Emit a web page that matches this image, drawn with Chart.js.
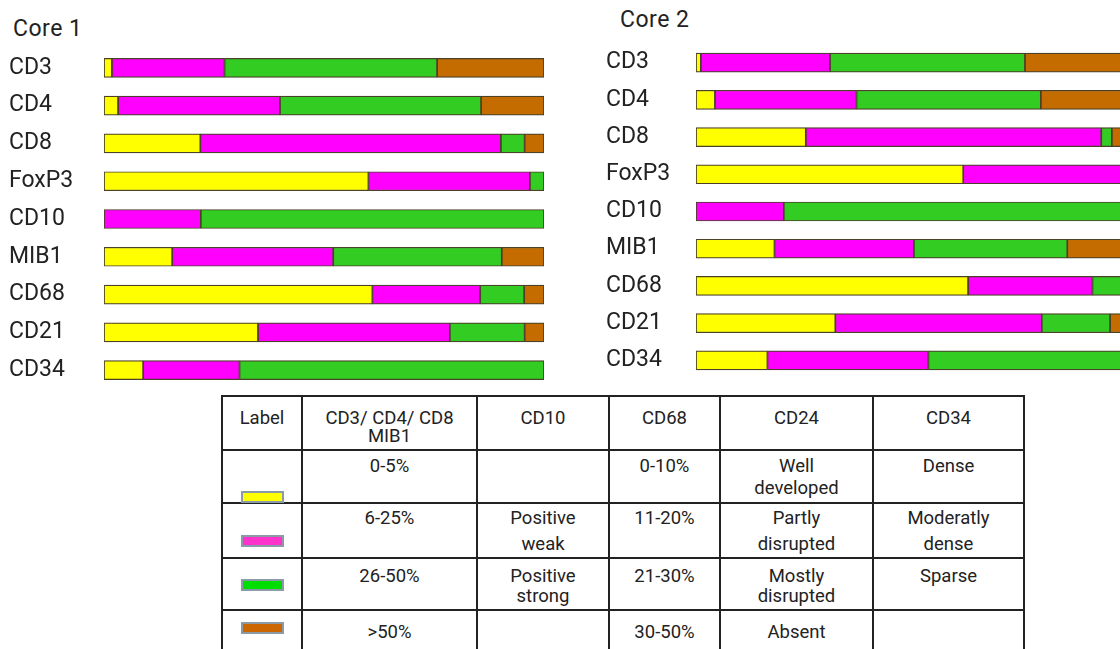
<!DOCTYPE html>
<html>
<head>
<meta charset="utf-8">
<script src="https://cdn.jsdelivr.net/npm/chart.js@4.4.1/dist/chart.umd.min.js"></script>
<style>
    html, body {
        margin: 0;
        padding: 0;
        background: #fff;
    }
    body {
        position: relative;
        width: 1120px;
        height: 649px;
        overflow: hidden;
        font-family: Roboto, "Liberation Sans", sans-serif;
        color: #222;
    }
    .core-title {
        position: absolute;
        font-size: 23px;
        line-height: 24px;
        letter-spacing: 0.5px;
    }
    canvas {
        position: absolute;
    }
    #core1 { left: 0; top: 49px; }
    #core2 { left: 597px; top: 44px; }

    #key {
        position: absolute;
        left: 221px;
        top: 395px;
        width: 802px;
        border-collapse: collapse;
        table-layout: fixed;
        font-size: 18.5px;
        color: #222;
    }
    #key td {
        border: 2px solid #222;
        text-align: center;
        vertical-align: top;
        padding: 0 4px;
        position: relative;
        box-sizing: border-box;
    }
    #key tr.head td { height: 54px; line-height: 18px; padding-top: 12px; }
    #key tr.r1 td { height: 53px; line-height: 22px; padding-top: 4px; }
    #key tr.r2 td { height: 54px; line-height: 26px; padding-top: 1px; }
    #key tr.r3 td { height: 52px; line-height: 20px; padding-top: 7px; }
    #key tr.r4 td { height: 60px; line-height: 22px; padding-top: 10px; }
    .swatch {
        position: absolute;
        left: 18px;
        width: 39px;
        height: 8px;
        border: 2px solid #8a9aa6;
    }
</style>
</head>
<body>

<div class="core-title" style="left: 13px; top: 17px;">Core 1</div>
<div class="core-title" style="left: 620px; top: 8px;">Core 2</div>

<canvas id="core1" width="550" height="340"></canvas>
<canvas id="core2" width="546" height="335"></canvas>

<table id="key">
    <colgroup>
        <col style="width: 80px">
        <col style="width: 175px">
        <col style="width: 132px">
        <col style="width: 111px">
        <col style="width: 153px">
        <col style="width: 151px">
    </colgroup>
    <tr class="head">
        <td>Label</td>
        <td>CD3/ CD4/ CD8<br>MIB1</td>
        <td>CD10</td>
        <td>CD68</td>
        <td>CD24</td>
        <td>CD34</td>
    </tr>
    <tr class="r1">
        <td><div class="swatch" style="top: 40px; background: #ffff00;"></div></td>
        <td>0-5%</td>
        <td></td>
        <td>0-10%</td>
        <td>Well<br>developed</td>
        <td>Dense</td>
    </tr>
    <tr class="r2">
        <td><div class="swatch" style="top: 31px; background: #ff33cc;"></div></td>
        <td>6-25%</td>
        <td>Positive<br>weak</td>
        <td>11-20%</td>
        <td>Partly<br>disrupted</td>
        <td>Moderatly<br>dense</td>
    </tr>
    <tr class="r3">
        <td><div class="swatch" style="top: 20px; background: #00dd00;"></div></td>
        <td>26-50%</td>
        <td>Positive<br>strong</td>
        <td>21-30%</td>
        <td>Mostly<br>disrupted</td>
        <td>Sparse</td>
    </tr>
    <tr class="r4">
        <td><div class="swatch" style="top: 11px; background: #cc6600;"></div></td>
        <td>&gt;50%</td>
        <td></td>
        <td>30-50%</td>
        <td>Absent</td>
        <td></td>
    </tr>
</table>

<script>
const markers = ['CD3', 'CD4', 'CD8', 'FoxP3', 'CD10', 'MIB1', 'CD68', 'CD21', 'CD34'];

// share of each staining level per marker, in percent
const core1Yellow  = [1.8, 3.2, 21.9, 60.1, 0, 15.5, 61.0, 35.0, 8.9];
const core1Magenta = [25.6, 36.8, 68.3, 36.7, 22.0, 36.6, 24.5, 43.6, 21.9];
const core1Green   = [48.3, 45.7, 5.4, 3.2, 78.0, 38.3, 10.0, 17.0, 69.2];
const core1Brown   = [24.3, 14.3, 4.4, 0, 0, 9.6, 4.5, 4.4, 0];

const core2Yellow  = [1.1, 4.3, 24.9, 60.6, 0, 17.8, 61.7, 31.6, 16.2];
const core2Magenta = [29.3, 32.1, 67.0, 36.0, 19.9, 31.6, 28.2, 46.8, 36.5];
const core2Green   = [44.2, 41.8, 2.4, 3.4, 80.1, 34.8, 7.1, 15.5, 47.3];
const core2Brown   = [25.4, 21.8, 5.7, 0, 0, 15.8, 3.0, 6.1, 0];

const segColors = ['#ffff00', '#ff00ff', '#33cc22', '#c46c00'];
const edgeColor = '#4a4128';

function makeCore(canvasId, series, axisWidth) {
    const ctx = document.getElementById(canvasId);
    return new Chart(ctx, {
        type: 'bar',
        data: {
            labels: markers,
            datasets: series.map((values, i) => ({
                data: values,
                backgroundColor: segColors[i],
                borderColor: edgeColor,
                borderWidth: 1.2,
                borderSkipped: false,
                barThickness: 19
            }))
        },
        options: {
            indexAxis: 'y',
            responsive: false,
            animation: false,
            events: [],
            layout: {
                padding: { left: 9, right: 6, top: 0, bottom: 0 }
            },
            plugins: {
                legend: { display: false },
                tooltip: { enabled: false }
            },
            scales: {
                x: {
                    stacked: true,
                    min: 0,
                    max: 100,
                    display: false
                },
                y: {
                    stacked: true,
                    grid: { display: false },
                    border: { display: false },
                    afterFit: function(scale) {
                        // fixed label column, no extra room above/below the rows
                        scale.width = axisWidth;
                        scale.paddingTop = 0;
                        scale.paddingBottom = 0;
                    },
                    ticks: {
                        crossAlign: 'far',
                        color: '#222',
                        font: { family: 'Roboto', size: 23 }
                    }
                }
            }
        }
    });
}

makeCore('core1', [core1Yellow, core1Magenta, core1Green, core1Brown], 95);
makeCore('core2', [core2Yellow, core2Magenta, core2Green, core2Brown], 90);
</script>
</body>
</html>
